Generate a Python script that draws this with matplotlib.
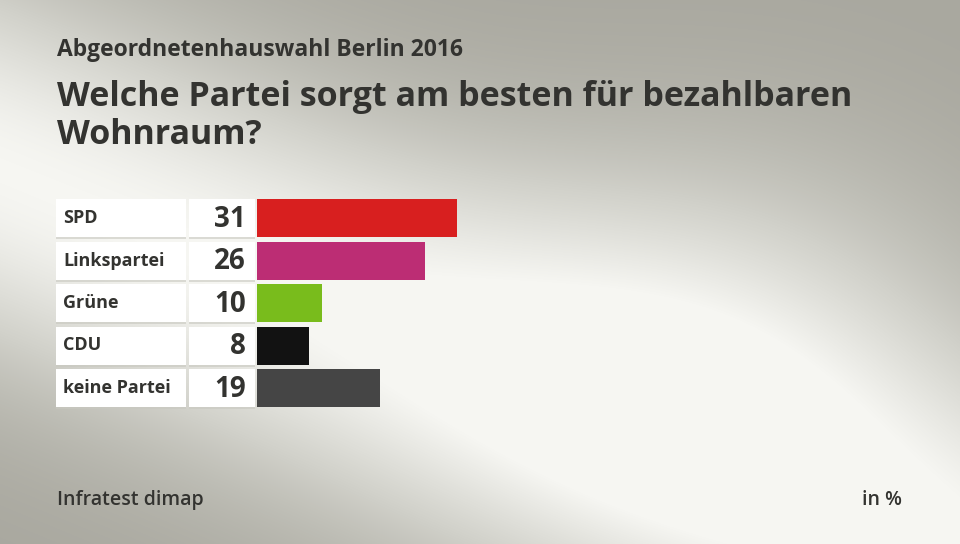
"""Horizontal bar chart: Abgeordnetenhauswahl Berlin 2016, bezahlbarer Wohnraum."""

import matplotlib.pyplot as plt
import numpy as np
from matplotlib.colors import LinearSegmentedColormap

plt.rcParams["font.family"] = ["Open Sans", "DejaVu Sans"]

parties = ["SPD", "Linkspartei", "Grüne", "CDU", "keine Partei"]
values = [31, 26, 10, 8, 19]
bar_colors = ["#d81f1f", "#bc2d74", "#79bc1c", "#121212", "#454545"]

supertitle = "Abgeordnetenhauswahl Berlin 2016"
title_lines = ["Welche Partei sorgt am besten für bezahlbaren", "Wohnraum?"]
source = "Infratest dimap"
unit = "in %"

W, H = 960, 544
TEXT = "#333330"

fig = plt.figure(figsize=(W / 100, H / 100), dpi=100)

# background: grey with a light diagonal sheen
bg = fig.add_axes([0, 0, 1, 1])
yy, xx = np.mgrid[0:H, 0:W]
p0, p1 = np.array([0.0, 170.0]), np.array([960.0, 560.0])
dirv = (p1 - p0) / np.linalg.norm(p1 - p0)
dist = np.abs((xx - p0[0]) * dirv[1] - (yy - p0[1]) * dirv[0])
shade = np.exp(-(dist / 180.0) ** 2)
shade += 0.45 * np.exp(-(((xx - 720) / 260.0) ** 2 + ((yy - 330) / 200.0) ** 2))
shade = np.clip(shade, 0, 1)
cmap = LinearSegmentedColormap.from_list("bg", ["#a9a89f", "#d2d2cb", "#f6f6f2"])
bg.imshow(shade, cmap=cmap, extent=(0, W, H, 0), aspect="auto")
bg.set_xlim(0, W)
bg.set_ylim(H, 0)
bg.axis("off")

# bar axes: x=0 at pixel 257, 6.45 px per percent; rows 42.5 px apart
px_per_unit = 6.45
x0_px, left_px, right_px = 257, 56, 900
row_px = 42.5
top_px = 218 - row_px / 2
n = len(parties)
ax = fig.add_axes([
    left_px / W,
    1 - (top_px + n * row_px) / H,
    (right_px - left_px) / W,
    n * row_px / H,
])
ax.set_xlim((left_px - x0_px) / px_per_unit, (right_px - x0_px) / px_per_unit)
ax.set_ylim(n - 0.5, -0.5)
ax.axis("off")

ypos = np.arange(n)
h = 38 / row_px


def px(v):
    return (v - x0_px) / px_per_unit


# white label and value boxes with a faint shadow
ax.barh(ypos + 0.05, px(186) - px(56), left=px(56), height=h,
        color="#c8c8c0", alpha=0.6, zorder=1)
ax.barh(ypos, px(186) - px(56), left=px(56), height=h, color="white", zorder=2)
ax.barh(ypos + 0.05, px(255) - px(189), left=px(189), height=h,
        color="#c8c8c0", alpha=0.6, zorder=1)
ax.barh(ypos, px(255) - px(189), left=px(189), height=h, color="white", zorder=2)

ax.barh(ypos, values, height=h, color=bar_colors, zorder=3)

for i, (name, val) in enumerate(zip(parties, values)):
    ax.text(px(63), i, name, ha="left", va="center", fontsize=13,
            fontweight="bold", color=TEXT, zorder=4)
    ax.text(px(246), i + 0.03, str(val), ha="right", va="center", fontsize=20,
            fontweight="bold", color=TEXT, zorder=4)

fig.text(57 / W, 1 - 56 / H, supertitle, ha="left", va="baseline",
         fontsize=16.5, fontweight="bold", color=TEXT)
fig.text(57 / W, 1 - 106 / H, title_lines[0], ha="left", va="baseline",
         fontsize=24.5, fontweight="bold", color=TEXT)
fig.text(57 / W, 1 - 144 / H, title_lines[1], ha="left", va="baseline",
         fontsize=24.5, fontweight="bold", color=TEXT)
fig.text(57 / W, 1 - 505 / H, source, ha="left", va="baseline",
         fontsize=14, fontweight="semibold", color=TEXT)
fig.text(902 / W, 1 - 505 / H, unit, ha="right", va="baseline",
         fontsize=14, fontweight="semibold", color=TEXT)

fig.savefig("out.png", dpi=100)
